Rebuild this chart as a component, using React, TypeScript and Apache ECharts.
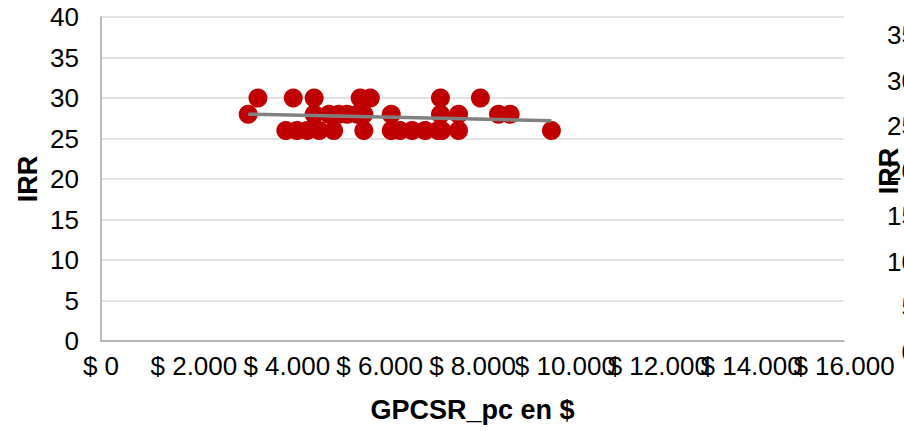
import React, { useEffect, useRef } from "react";
import * as echarts from "echarts";

// GPCSR_pc (x, $) and IRR (y)
const gpcsrValues = [
  3170, 3380, 3980, 4140, 4220, 4440, 4590, 4590, 4700, 4910, 5010, 5120, 5300,
  5520, 5580, 5660, 5660, 5800, 6250, 6250, 6440, 6700, 6980, 7260, 7310, 7310,
  7340, 7700, 7700, 8170, 8560, 8810, 9700,
];
const irrValues = [
  28, 30, 26, 30, 26, 26, 30, 28, 26, 28, 26, 28, 28, 28, 30, 28, 26, 30, 28, 26,
  26, 26, 26, 26, 30, 28, 26, 28, 26, 30, 28, 28, 26,
];
// linear trendline endpoints
const trendX = [3170, 9700];
const trendY = [28.0, 27.2];

const xTicks = { min: 0, max: 16000, interval: 2000 };
const yTicks = { min: 0, max: 40, interval: 5 };

const FONT = "'Liberation Sans', Arial, sans-serif";

function fmtDollar(v: number): string {
  const s = Math.round(v)
    .toString()
    .replace(/\B(?=(\d{3})+(?!\d))/g, ".");
  return "$ " + s;
}

export default function App() {
  const ref = useRef<HTMLDivElement>(null);
  useEffect(() => {
    document.body.style.margin = "0";
    if (!ref.current) return;
    const chart = echarts.init(ref.current, undefined, { renderer: "svg" });
    const points = gpcsrValues.map((x, i) => [x, irrValues[i]]);
    const trend = trendX.map((x, i) => [x, trendY[i]]);
    const labelStyle = {
      fontFamily: FONT,
      fontSize: 26,
      color: "#000",
    };
    const titleStyle = {
      fontFamily: FONT,
      fontSize: 27,
      fontWeight: "bold",
      color: "#000",
    };
    chart.setOption({
      animation: false,
      backgroundColor: "#ffffff",
      grid: [
        {
          left: 101,
          top: 17,
          width: 743,
          height: 324,
          containLabel: false,
          outerBoundsMode: "none",
        },
        {
          left: 938,
          top: -10,
          width: 500,
          height: 362,
          containLabel: false,
          outerBoundsMode: "none",
        },
      ],
      xAxis: [
        {
          gridIndex: 0,
          type: "value",
          position: "bottom",
          min: xTicks.min,
          max: xTicks.max,
          interval: xTicks.interval,
          name: "GPCSR_pc en $",
          nameLocation: "middle",
          nameGap: 55,
          nameMoveOverlap: false,
          nameTextStyle: titleStyle,
          axisLine: { show: true, lineStyle: { color: "#A6A6A6", width: 1.5 } },
          axisTick: { show: false },
          splitLine: { show: false },
          axisLabel: {
            ...labelStyle,
            formatter: (v: number) => fmtDollar(v),
            margin: 12,
            hideOverlap: false,
            showMinLabel: true,
          },
        },
        {
          gridIndex: 1,
          type: "value",
          min: 0,
          max: 10,
          show: false,
        },
        {
          // carries the last tick label ($ 16.000), which overlaps its neighbour
          gridIndex: 0,
          type: "value",
          position: "bottom",
          offset: 0,
          min: xTicks.min,
          max: xTicks.max,
          interval: xTicks.interval,
          axisLine: { show: false },
          axisTick: { show: false },
          splitLine: { show: false },
          axisLabel: {
            ...labelStyle,
            formatter: (v: number) => (v === xTicks.max ? fmtDollar(v) : ""),
            margin: 12,
            hideOverlap: false,
            showMaxLabel: true,
          },
        },
      ],
      yAxis: [
        {
          gridIndex: 0,
          type: "value",
          min: yTicks.min,
          max: yTicks.max,
          interval: yTicks.interval,
          name: "IRR",
          nameLocation: "middle",
          nameGap: 60,
          nameMoveOverlap: false,
          nameTextStyle: titleStyle,
          axisLine: { show: true, lineStyle: { color: "#A6A6A6", width: 1.5 } },
          axisTick: { show: false },
          splitLine: { show: true, lineStyle: { color: "#D9D9D9", width: 1.5 } },
          axisLabel: {
            ...labelStyle,
            margin: 22,
            showMinLabel: true,
            showMaxLabel: true,
          },
        },
        {
          gridIndex: 1,
          type: "value",
          min: yTicks.min,
          max: yTicks.max,
          interval: yTicks.interval,
          name: "IRR",
          nameLocation: "middle",
          nameGap: 36,
          nameMoveOverlap: false,
          nameTextStyle: titleStyle,
          axisLine: { show: false },
          axisTick: { show: false },
          splitLine: { show: false },
          axisLabel: {
            ...labelStyle,
            margin: 22,
          },
        },
      ],
      series: [
        {
          type: "scatter",
          xAxisIndex: 0,
          yAxisIndex: 0,
          data: points,
          symbol: "circle",
          symbolSize: 19,
          itemStyle: { color: "#C00000", opacity: 1 },
          z: 2,
        },
        {
          type: "line",
          xAxisIndex: 0,
          yAxisIndex: 0,
          data: trend,
          showSymbol: false,
          symbol: "none",
          lineStyle: { color: "#808080", width: 3.5 },
          z: 3,
        },
      ],
    });
    return () => chart.dispose();
  }, []);
  return <div ref={ref} style={{ width: 904, height: 431 }} />;
}
